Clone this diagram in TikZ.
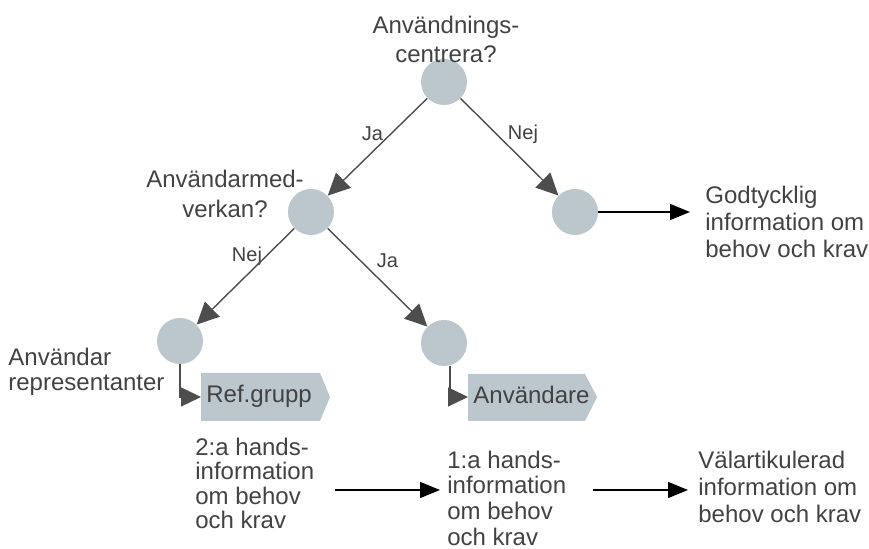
\documentclass[tikz,border=0pt]{standalone}
\usepackage{fontspec}
\setmainfont{Liberation Sans}
\usetikzlibrary{arrows.meta}
\definecolor{circ}{HTML}{BBC6CD}
\definecolor{txtc}{HTML}{424242}
\definecolor{arr}{HTML}{4D4D4D}
\begin{document}
\begin{tikzpicture}[x=0.5pt,y=-0.5pt,
  dot/.style={circle, fill=circ, minimum size=23pt, inner sep=0pt},
  txt/.style={text=txtc, inner sep=0pt},
  lbl/.style={text=txtc, inner sep=0pt, font=\fontsize{10}{12}\selectfont, anchor=base},
  treearrow/.style={color=arr, line width=0.7pt, -{Triangle[length=11pt,width=10.5pt]}},
  elbowarrow/.style={color=arr, line width=0.7pt, -{Triangle[length=10pt,width=9.5pt]}},
  blackarrow/.style={color=black, line width=0.75pt, -{Triangle[length=10pt,width=8pt]}},
  tag/.style={fill=circ}]
\useasboundingbox (0,0) rectangle (869,549);

% circles
\node[dot] (c0) at (444,82) {};
\node[dot] (c1) at (311,212) {};
\node[dot] (c2) at (575,212) {};
\node[dot] (c3) at (180,341) {};
\node[dot] (c4) at (444,343) {};

% tags
\fill[circ] (201,373) -- (320,373) -- (330,397) -- (320,421) -- (201,421) -- cycle;
\coordinate (tagA) at (201,397);
\fill[circ] (468,374) -- (585,374) -- (597,397) -- (585,421) -- (468,421) -- cycle;
\coordinate (tagB) at (468,397);
\node[txt, anchor=base west, font=\fontsize{12}{13.5}\selectfont] (refg) at (206,403) {Ref.grupp};
\node[txt, anchor=base west, font=\fontsize{12}{13.5}\selectfont] (anv) at (473,404) {Användare};

% texts
\node[txt, align=center, anchor=north, font=\fontsize{12}{14.5}\selectfont] (q1) at (446,15.5) {Användnings-\\centrera?};
\node[txt, align=center, anchor=north, font=\fontsize{12}{15}\selectfont] (q2) at (225,169.5) {Användarmed-\\verkan?};
\node[txt, align=left, anchor=north west, font=\fontsize{12}{12.5}\selectfont] (rep) at (8,347.5) {Användar\\representanter};
\node[txt, align=left, anchor=north west, font=\fontsize{12}{13.5}\selectfont] (god) at (705,185.5) {Godtycklig\\information om\\behov och krav};
\node[txt, align=left, anchor=north west, font=\fontsize{12}{13.5}\selectfont] (val) at (698,450.5) {Välartikulerad\\information om\\behov och krav};
\node[txt, align=left, anchor=north west, font=\fontsize{12}{12.8}\selectfont] (h1) at (447,450.5) {1:a hands-\\information\\om behov\\och krav};
\node[txt, align=left, anchor=north west, font=\fontsize{12}{12.2}\selectfont] (h2) at (195,437.5) {2:a hands-\\information\\om behov\\och krav};

% labels
\node[lbl] (ja1) at (372.5,141) {Ja};
\node[lbl] (nej1) at (523,140) {Nej};
\node[lbl] (nej2) at (247,262) {Nej};
\node[lbl] (ja2) at (387.5,268) {Ja};

% connectors
\draw[treearrow] (c0) -- (c1);
\draw[treearrow] (c0) -- (c2);
\draw[treearrow] (c1) -- (c3);
\draw[treearrow] (c1) -- (c4);
\draw[elbowarrow] (c3.south) |- (tagA);
\draw[elbowarrow] ([xshift=3pt]c4.south) |- (tagB);

\coordinate (godend) at (690,212);
\draw[blackarrow] (c2.east) -- (godend);
\coordinate (b1s) at (335,490);
\coordinate (b1e) at (440,490);
\coordinate (b2s) at (593,490);
\coordinate (b2e) at (688,490);
\draw[blackarrow] (b1s) -- (b1e);
\draw[blackarrow] (b2s) -- (b2e);
\end{tikzpicture}
\end{document}
